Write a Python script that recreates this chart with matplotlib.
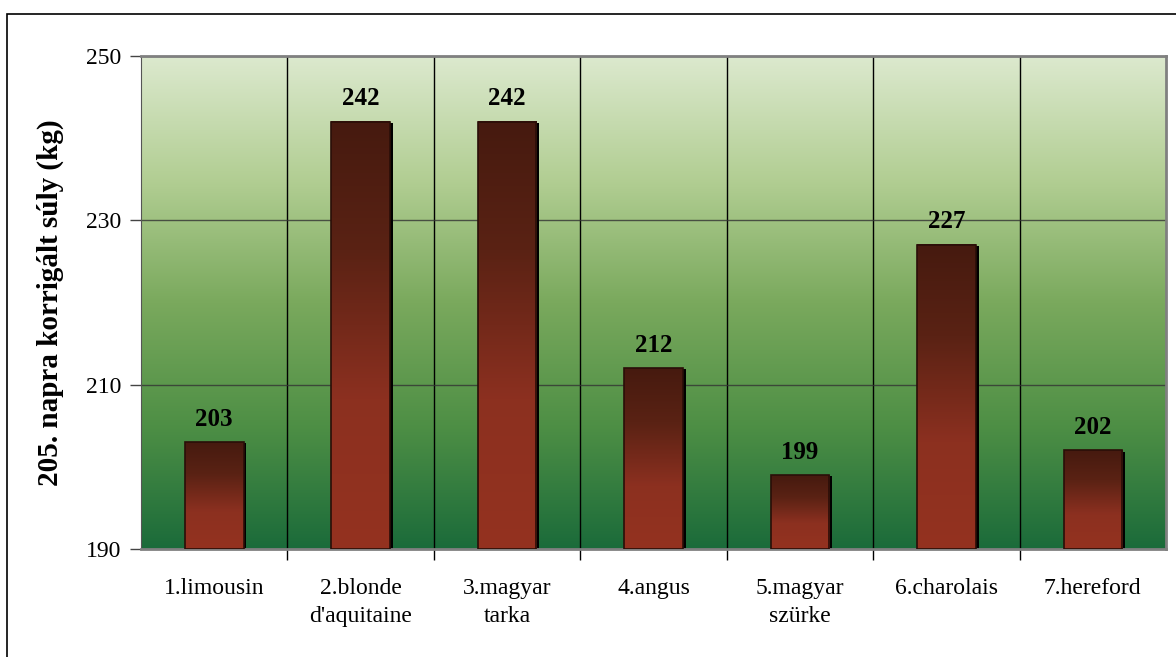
import numpy as np
import matplotlib
matplotlib.use("Agg")
import matplotlib.pyplot as plt
from matplotlib.colors import LinearSegmentedColormap
from matplotlib.patches import Rectangle

breeds = [
    "1.limousin",
    "2.blonde\nd'aquitaine",
    "3.magyar\ntarka",
    "4.angus",
    "5.magyar\nszürke",
    "6.charolais",
    "7.hereford",
]
weights = [203, 242, 242, 212, 199, 227, 202]
y_ticks = [190, 210, 230, 250]

plt.rcParams["font.family"] = ["Liberation Serif", "DejaVu Serif"]

fig = plt.figure(figsize=(11.76, 6.57), dpi=100)
ax = fig.add_axes([141 / 1176, 1 - 549 / 657, (1166 - 141) / 1176, (549 - 56) / 657])

# outer chart border (left and top visible)
fig.patches.append(Rectangle((7 / 1176, -0.1), 1.2, 1 - 14 / 657 + 0.1,
                             transform=fig.transFigure, fill=False,
                             edgecolor="black", linewidth=1.2))

ymin, ymax = 190, 250
ax.set_xlim(-0.5, len(breeds) - 0.5)
ax.set_ylim(ymin, ymax)

# plot area gradient
bg_cmap = LinearSegmentedColormap.from_list(
    "bg", ["#1b6b3a", "#4e8f45", "#7aa95d", "#b2ce93", "#dce9ce"])
grad = np.linspace(0, 1, 256).reshape(-1, 1)
ax.imshow(grad, cmap=bg_cmap, origin="lower", aspect="auto",
          extent=[-0.5, len(breeds) - 0.5, ymin, ymax], zorder=0)

# bars with vertical gradient
bar_cmap = LinearSegmentedColormap.from_list(
    "bar", [(0, "#94321f"), (0.35, "#8c3020"), (0.7, "#5a2214"), (1, "#461a0f")])
w = 0.4
for i, v in enumerate(weights):
    ax.add_patch(Rectangle((i - w / 2 + 0.02, ymin), w, v - ymin - 0.15,
                           facecolor="black", edgecolor="none", zorder=2))
    ax.imshow(grad, cmap=bar_cmap, origin="lower", aspect="auto",
              extent=[i - w / 2, i + w / 2, ymin, v], zorder=3)
    ax.add_patch(Rectangle((i - w / 2, ymin), w, v - ymin, fill=False,
                           edgecolor="#2a0e08", linewidth=1.2, zorder=4))
    ax.text(i, v + 1.4, str(v), ha="center", va="bottom",
            fontsize=18, fontweight="bold", zorder=5)

ax.set_xlim(-0.5, len(breeds) - 0.5)
ax.set_ylim(ymin, ymax)

ax.set_yticks(y_ticks)
ax.set_yticklabels([str(t) for t in y_ticks], fontsize=17)
ax.set_xticks(range(len(breeds)))
ax.set_xticklabels(breeds, fontsize=17, linespacing=1.45)
ax.set_xticks(np.arange(0.5, len(breeds) - 1, 1), minor=True)
ax.tick_params(axis="x", which="major", length=0, pad=21)
ax.tick_params(axis="x", which="minor", length=8, width=1, color="black")
ax.tick_params(axis="y", length=8, width=1, color="#444444", pad=6)

ax.grid(axis="x", which="minor", color="black", linewidth=1, zorder=1)
ax.grid(axis="y", which="major", color="#333333", linewidth=1, alpha=0.8)
ax.set_axisbelow(True)

for s in ["top", "right"]:
    ax.spines[s].set_color("#808080")
    ax.spines[s].set_linewidth(2)
ax.spines["left"].set_color("#555555")
ax.spines["bottom"].set_color("#808080")
ax.spines["bottom"].set_linewidth(2)

ax.set_ylabel("205. napra korrigált súly (kg)", fontsize=21,
              fontweight="bold", labelpad=16)

fig.savefig("out.png", dpi=100)
